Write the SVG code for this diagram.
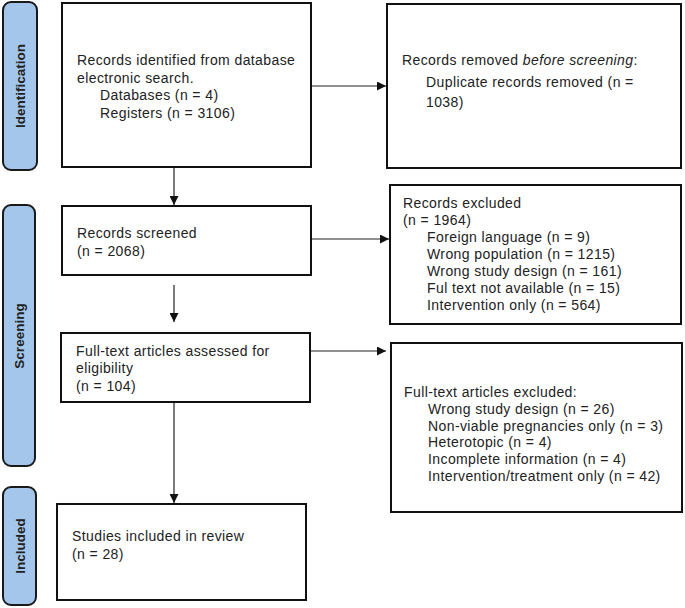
<svg xmlns="http://www.w3.org/2000/svg" width="685" height="608" viewBox="0 0 685 608">
<defs>
<marker id="ah" viewBox="0 0 10 10" refX="10" refY="5" markerWidth="9" markerHeight="9" markerUnits="userSpaceOnUse" orient="auto">
<path d="M0,0 L10,5 L0,10 z" fill="#111"/>
</marker>
<style>
.box{fill:#fff;stroke:#111;stroke-width:2}
.side{fill:#a3c6ea;stroke:#1a1a1a;stroke-width:2}
.t{font-family:"Liberation Sans",Arial,sans-serif;font-size:14px;letter-spacing:0.4px;fill:#222}
.st{font-family:"Liberation Sans",Arial,sans-serif;font-size:13.5px;font-weight:bold;fill:#222;text-anchor:middle}
.c{stroke:#222;stroke-width:1.2;fill:none;marker-end:url(#ah)}
</style>
</defs>
<rect width="685" height="608" fill="#fff"/>
<g id="side-identification">
<rect class="side" x="3" y="2" width="34" height="168" rx="8"/>
<text class="st" transform="translate(25,86) rotate(-90)">Identification</text>
</g>
<g id="side-screening">
<rect class="side" x="3" y="205" width="32" height="261" rx="8"/>
<text class="st" transform="translate(24,336) rotate(-90)">Screening</text>
</g>
<g id="side-included">
<rect class="side" x="3" y="487" width="33" height="118" rx="8"/>
<text class="st" transform="translate(24.5,546) rotate(-90)">Included</text>
</g>
<g id="identified">
<rect class="box" x="62" y="3" width="249" height="164"/>
<text class="t" x="77" y="65">Records identified from database</text>
<text class="t" x="77" y="83">electronic search.</text>
<text class="t" x="100" y="100">Databases (n = 4)</text>
<text class="t" x="100" y="118">Registers (n = 3106)</text>
</g>
<g id="removed">
<rect class="box" x="387" y="4" width="294" height="164"/>
<text class="t" x="402" y="65">Records removed <tspan font-style="italic">before screening</tspan>:</text>
<text class="t" x="426" y="87">Duplicate records removed (n =</text>
<text class="t" x="426" y="107">1038)</text>
</g>
<g id="screened">
<rect class="box" x="62" y="206" width="249" height="69"/>
<text class="t" x="77" y="238">Records screened</text>
<text class="t" x="77" y="256">(n = 2068)</text>
</g>
<g id="excluded">
<rect class="box" x="390" y="185" width="291" height="139"/>
<text class="t" x="403" y="208">Records excluded</text>
<text class="t" x="403" y="225">(n = 1964)</text>
<text class="t" x="427" y="242">Foreign language (n = 9)</text>
<text class="t" x="427" y="259">Wrong population (n = 1215)</text>
<text class="t" x="427" y="276">Wrong study design (n = 161)</text>
<text class="t" x="427" y="293">Ful text not available (n = 15)</text>
<text class="t" x="427" y="310">Intervention only (n = 564)</text>
</g>
<g id="assessed">
<rect class="box" x="61" y="333" width="249" height="69"/>
<text class="t" x="76" y="356">Full-text articles assessed for</text>
<text class="t" x="76" y="373">eligibility</text>
<text class="t" x="76" y="391">(n = 104)</text>
</g>
<g id="ft-excluded">
<rect class="box" x="391" y="343" width="291" height="169"/>
<text class="t" x="404" y="397">Full-text articles excluded:</text>
<text class="t" x="428" y="414">Wrong study design (n = 26)</text>
<text class="t" x="428" y="431">Non-viable pregnancies only (n = 3)</text>
<text class="t" x="428" y="447">Heterotopic (n = 4)</text>
<text class="t" x="428" y="464">Incomplete information (n = 4)</text>
<text class="t" x="428" y="481">Intervention/treatment only (n = 42)</text>
</g>
<g id="included">
<rect class="box" x="57" y="504" width="249" height="96"/>
<text class="t" x="72" y="541">Studies included in review</text>
<text class="t" x="72" y="559">(n = 28)</text>
</g>
<g id="connectors">
<line class="c" x1="312" y1="86" x2="386" y2="86"/>
<line class="c" x1="174" y1="168" x2="174" y2="205"/>
<line class="c" x1="312" y1="239" x2="389" y2="239"/>
<line class="c" x1="174" y1="285" x2="174" y2="322"/>
<line class="c" x1="311" y1="351" x2="386" y2="351"/>
<line class="c" x1="174" y1="403" x2="174" y2="503"/>
</g>
</svg>
